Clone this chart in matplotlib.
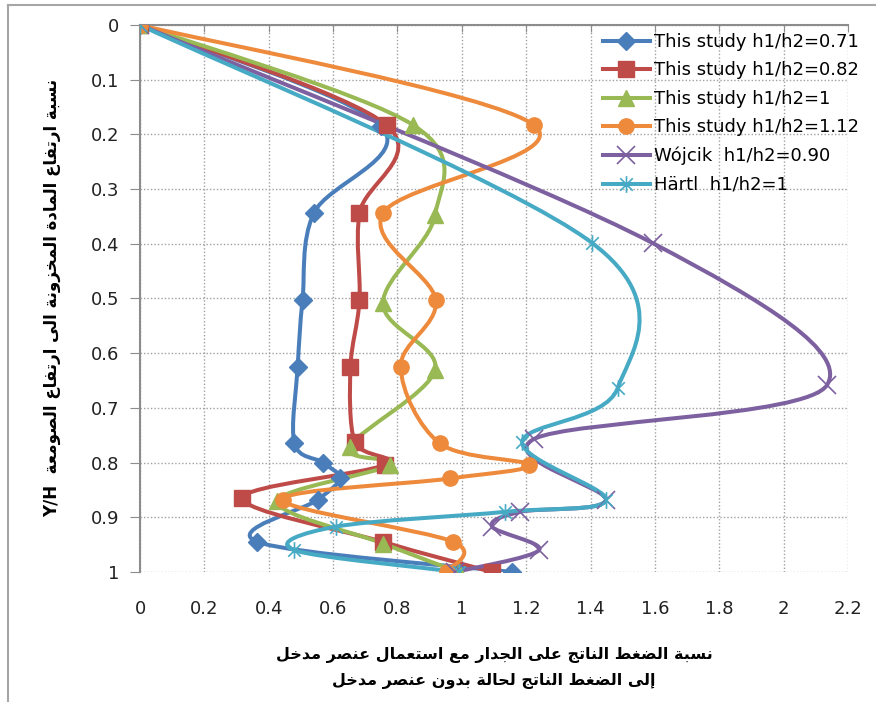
import numpy as np
import matplotlib
matplotlib.use("Agg")
import matplotlib.pyplot as plt
from matplotlib.path import Path
from matplotlib.patches import PathPatch
from matplotlib.lines import Line2D

# ---- data ----
blue_y = [0, 0.185, 0.344, 0.503, 0.625, 0.765, 0.80, 0.829, 0.868, 0.945, 1.0]
blue_x = [0, 0.75, 0.54, 0.505, 0.49, 0.48, 0.568, 0.62, 0.552, 0.365, 1.156]

red_y = [0, 0.183, 0.344, 0.503, 0.625, 0.762, 0.804, 0.865, 0.945, 1.0]
red_x = [0, 0.766, 0.682, 0.682, 0.654, 0.667, 0.76, 0.318, 0.755, 1.094]

green_y = [0, 0.183, 0.347, 0.509, 0.63, 0.771, 0.804, 0.871, 0.948, 1.0]
green_x = [0, 0.849, 0.917, 0.755, 0.917, 0.651, 0.776, 0.427, 0.755, 0.99]

orange_y = [0, 0.183, 0.344, 0.503, 0.625, 0.765, 0.804, 0.829, 0.868, 0.945, 1.0]
orange_x = [0, 1.224, 0.755, 0.919, 0.81, 0.932, 1.208, 0.964, 0.443, 0.974, 0.953]

wojcik_y = [0, 0.399, 0.658, 0.757, 0.868, 0.89, 0.917, 0.96, 1.0]
wojcik_x = [0, 1.594, 2.135, 1.224, 1.448, 1.182, 1.094, 1.24, 0.98]

hartl_y = [0, 0.399, 0.664, 0.762, 0.868, 0.89, 0.917, 0.96, 1.0]
hartl_x = [0, 1.406, 1.484, 1.1875, 1.448, 1.135, 0.609, 0.479, 0.99]

labels = ['This study h1/h2=0.71', 'This study h1/h2=0.82', 'This study h1/h2=1',
          'This study h1/h2=1.12', 'Wójcik  h1/h2=0.90', 'Härtl  h1/h2=1']

xticks = [0, 0.2, 0.4, 0.6, 0.8, 1, 1.2, 1.4, 1.6, 1.8, 2, 2.2]
yticks = [0, 0.1, 0.2, 0.3, 0.4, 0.5, 0.6, 0.7, 0.8, 0.9, 1]

xlabel_1 = 'نسبة الضغط الناتج على الجدار مع استعمال عنصر مدخل'
xlabel_2 = 'إلى الضغط الناتج لحالة بدون عنصر مدخل'
ylabel_ar = 'نسبة ارتفاع المادة المخزونة الى ارتفاع الصومعة'

# ---- minimal arabic shaping (no reshaper lib available) ----
FORMS = {
    'ا': (0xFE8D, 0xFE8E), 'إ': (0xFE87, 0xFE88), 'ة': (0xFE93, 0xFE94),
    'د': (0xFEA9, 0xFEAA), 'ر': (0xFEAD, 0xFEAE), 'ز': (0xFEAF, 0xFEB0),
    'و': (0xFEED, 0xFEEE), 'ى': (0xFEEF, 0xFEF0),
    'ب': (0xFE8F, 0xFE90, 0xFE91, 0xFE92), 'ت': (0xFE95, 0xFE96, 0xFE97, 0xFE98),
    'ج': (0xFE9D, 0xFE9E, 0xFE9F, 0xFEA0), 'ح': (0xFEA1, 0xFEA2, 0xFEA3, 0xFEA4),
    'خ': (0xFEA5, 0xFEA6, 0xFEA7, 0xFEA8), 'س': (0xFEB1, 0xFEB2, 0xFEB3, 0xFEB4),
    'ص': (0xFEB9, 0xFEBA, 0xFEBB, 0xFEBC), 'ض': (0xFEBD, 0xFEBE, 0xFEBF, 0xFEC0),
    'ط': (0xFEC1, 0xFEC2, 0xFEC3, 0xFEC4), 'ع': (0xFEC9, 0xFECA, 0xFECB, 0xFECC),
    'غ': (0xFECD, 0xFECE, 0xFECF, 0xFED0), 'ف': (0xFED1, 0xFED2, 0xFED3, 0xFED4),
    'ل': (0xFEDD, 0xFEDE, 0xFEDF, 0xFEE0), 'م': (0xFEE1, 0xFEE2, 0xFEE3, 0xFEE4),
    'ن': (0xFEE5, 0xFEE6, 0xFEE7, 0xFEE8), 'ي': (0xFEF1, 0xFEF2, 0xFEF3, 0xFEF4),
}


def shape_rtl(text):
    out = []
    for i, c in enumerate(text):
        f = FORMS.get(c)
        if f is None:
            out.append(c)
            continue
        prev = text[i - 1] if i > 0 else ''
        nxt = text[i + 1] if i + 1 < len(text) else ''
        jp = prev in FORMS and len(FORMS[prev]) == 4
        jn = len(f) == 4 and nxt in FORMS
        if jp and jn:
            k = 3
        elif jp:
            k = 1
        elif jn:
            k = 2
        else:
            k = 0
        out.append(chr(f[k]))
    return ''.join(reversed(out))


def smooth_path(xs, ys):
    # excel style smoothed line (catmull-rom as cubic bezier)
    p = np.column_stack([xs, ys]).astype(float)
    n = len(p)
    verts = [p[0]]
    codes = [Path.MOVETO]
    for i in range(n - 1):
        p0 = p[i - 1] if i > 0 else p[i]
        p3 = p[i + 2] if i + 2 < n else p[i + 1]
        verts += [p[i] + (p[i + 1] - p0) / 6, p[i + 1] - (p3 - p[i]) / 6, p[i + 1]]
        codes += [Path.CURVE4] * 3
    return Path(verts, codes)


star = Path([(0, -1), (0, 1), (-0.75, -0.75), (0.75, 0.75), (-0.75, 0.75), (0.75, -0.75)],
            [Path.MOVETO, Path.LINETO] * 3)

series = [
    (blue_x, blue_y, '#4A7EBB', 'D', 9.5, 1),
    (red_x, red_y, '#BE4B48', 's', 11, 1),
    (green_x, green_y, '#98B954', '^', 11, 1),
    (orange_x, orange_y, '#EE8A3C', 'o', 11, 1),
    (wojcik_x, wojcik_y, '#7D60A0', 'x', 13, 1.2),
    (hartl_x, hartl_y, '#46AAC5', star, 12, 1.2),
]

plt.rcParams['font.family'] = ['DejaVu Sans']

fig = plt.figure(figsize=(8.76, 7.02), dpi=100)
ax = fig.add_axes([140 / 876, 1 - 572 / 702, 708 / 876, 547 / 702])

handles = []
for (xs, ys, col, mk, ms, mew), lab in zip(series, labels):
    ax.add_patch(PathPatch(smooth_path(xs, ys), fill=False, edgecolor=col, lw=2.9,
                           capstyle='round', joinstyle='round', zorder=3))
    ax.plot(xs, ys, linestyle='none', marker=mk, ms=ms, color=col, mec=col, mew=mew, zorder=4)
    handles.append(Line2D([], [], color=col, lw=2.9, marker=mk, ms=ms, mec=col, mew=mew, label=lab))

ax.set_xlim(0, 2.2)
ax.set_ylim(1, 0)
ax.set_xticks(xticks)
ax.set_xticklabels([f'{v:g}' for v in xticks])
ax.set_yticks(yticks)
ax.set_yticklabels([f'{v:g}' for v in yticks])

ax.grid(True, color='#a0a0a0', linestyle=(0, (1, 1.5)), lw=1)
ax.set_axisbelow(True)
for s in ['bottom', 'right']:
    ax.spines[s].set_visible(False)
for s in ['left', 'top']:
    ax.spines[s].set_color('#8c8c8c')
    ax.spines[s].set_linewidth(1.5)

ax.tick_params(axis='x', top=True, bottom=False, labeltop=False, labelbottom=True,
               direction='in', length=5, color='#8c8c8c', pad=20, labelsize=13, labelcolor='#222222')
ax.tick_params(axis='y', direction='out', length=7, color='#8c8c8c', pad=8,
               labelsize=13, labelcolor='#222222')

ax.legend(handles=handles, loc='upper left', bbox_to_anchor=(603 / 876, 0.953),
          bbox_transform=fig.transFigure, frameon=False, fontsize=13, borderpad=0,
          borderaxespad=0, handlelength=2.6, handletextpad=0.22, labelspacing=0.58)

fig.text(494 / 876, 1 - 655 / 702, shape_rtl(xlabel_1), ha='center', va='center',
         fontsize=11.5, fontweight='bold')
fig.text(494 / 876, 1 - 681 / 702, shape_rtl(xlabel_2), ha='center', va='center',
         fontsize=11.5, fontweight='bold')
fig.text(52 / 876, 1 - 298 / 702, 'Y/H  ' + shape_rtl(ylabel_ar), ha='center', va='center',
         rotation=90, fontsize=12, fontweight='bold')

# chart area border
fig.add_artist(Line2D([8 / 876, 8 / 876], [0, 1 - 5 / 702], transform=fig.transFigure,
                      color='#a6a6a6', lw=1.5))
fig.add_artist(Line2D([8 / 876, 1], [1 - 5 / 702, 1 - 5 / 702], transform=fig.transFigure,
                      color='#a6a6a6', lw=1.5))

fig.savefig('out.png', dpi=100)
